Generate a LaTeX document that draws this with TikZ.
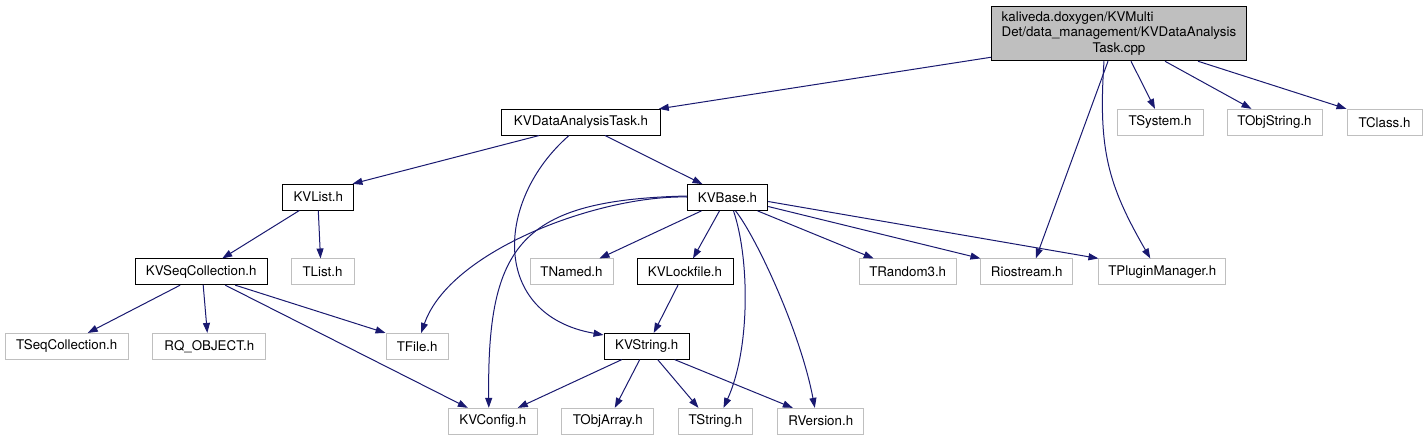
\documentclass[tikz,border=0pt]{standalone}
\usepackage{fontspec}
\setmainfont{TeX Gyre Heros}
\usetikzlibrary{arrows.meta,calc}
\definecolor{edgeblue}{HTML}{191970}
\definecolor{lgray}{HTML}{BFBFBF}
\begin{document}
\begin{tikzpicture}[x=1pt,y=-1pt,
  box/.style={draw=black,line width=1pt,inner sep=0pt,minimum height=25.7pt,
    font=\fontsize{13.33}{15.5}\selectfont},
  gbox/.style={box,draw=lgray},
  edge/.style={draw=edgeblue,line width=1pt,-{Triangle[length=10pt,width=7pt]}}]
\useasboundingbox (0,0) rectangle (1427,440);
% nodes
\node[box,fill=lgray,minimum width=255pt,minimum height=54.7pt] (top) at (1119,33.4)
  {\begin{tabular}{@{}l@{}}kaliveda.doxygen/KVMulti\\Det/data\_management/KVDataAnalysis\\\multicolumn{1}{@{}c@{}}{Task.cpp}\end{tabular}};
\node[box,minimum width=158.6pt] (kvdat) at (581,122.2) {KVDataAnalysisTask.h};
\node[gbox,minimum width=86pt] (tsys) at (1160,122.2) {TSystem.h};
\node[gbox,minimum width=95pt] (tobj) at (1274.5,122.2) {TObjString.h};
\node[gbox,minimum width=75pt] (tclass) at (1384.5,122.2) {TClass.h};
\node[box,minimum width=80.4pt] (kvbase) at (727.5,197.5) {KVBase.h};
\node[box,minimum width=71.3pt] (kvlist) at (318.3,197.2) {KVList.h};
\node[box,minimum width=132.3pt] (kvseq) at (201.2,271.8) {KVSeqCollection.h};
\node[gbox,minimum width=63pt] (tlist) at (322.5,271.8) {TList.h};
\node[gbox,minimum width=83pt] (tnamed) at (571.5,271.8) {TNamed.h};
\node[box,minimum width=96pt] (kvlock) at (685,271.8) {KVLockfile.h};
\node[gbox,minimum width=97pt] (trand) at (907.7,271.8) {TRandom3.h};
\node[gbox,minimum width=91.7pt] (rio) at (1026.8,271.8) {Riostream.h};
\node[gbox,minimum width=126.7pt] (tpm) at (1162.3,271.8) {TPluginManager.h};
\node[gbox,minimum width=123.3pt] (tseq) at (66.7,346.3) {TSeqCollection.h};
\node[gbox,minimum width=113.3pt] (rq) at (209.3,346.3) {RQ\_OBJECT.h};
\node[gbox,minimum width=62.3pt] (tfile) at (417.2,346.3) {TFile.h};
\node[box,minimum width=85.3pt] (kvstr) at (646.7,346.3) {KVString.h};
\node[gbox,minimum width=89pt] (kvconf) at (492.8,421.2) {KVConfig.h};
\node[gbox,minimum width=92.3pt] (tobjarr) at (607.8,421.2) {TObjArray.h};
\node[gbox,minimum width=74.4pt] (tstr) at (715.5,421.2) {TString.h};
\node[gbox,minimum width=86.3pt] (rver) at (820.8,421.2) {RVersion.h};
% edges from top
\draw[edge] ($(top.south west)+(0,-4)$) -- ($(kvdat.north east)+(-2,0)$);
\draw[edge] ($(top.south)+(-11,0)$) -- ($(rio.north)+(9,0)$);
\draw[edge] ($(top.south)+(-15,0)$) .. controls (1098,150) and (1108,185) .. ($(tpm.north)+(-12,0)$);
\draw[edge] ($(top.south)+(12,0)$) -- ($(tsys.north)+(-5,0)$);
\draw[edge] ($(top.south)+(46,0)$) -- ($(tobj.north)+(-23,0)$);
\draw[edge] ($(top.south)+(79,0)$) -- (tclass.north west);
% edges from KVDataAnalysisTask.h
\draw[edge] ($(kvdat.south)+(-42,0)$) -- ($(kvlist.north east)+(-2,0)$);
\draw[edge] ($(kvdat.south)+(24,0)$) -- ($(kvbase.north)+(-25,0)$);
\draw[edge] ($(kvdat.south)+(-12,0)$) .. controls (495,200) and (490,315) .. ($(kvstr.north west)+(0,2)$);
% KVList.h
\draw[edge] ($(kvlist.south)+(-19,0)$) -- ($(kvseq.north)+(21,0)$);
\draw[edge] ($(kvlist.south)+(0,0)$) -- ($(tlist.north)+(-2,0)$);
% KVSeqCollection.h
\draw[edge] ($(kvseq.south)+(-21,0)$) -- ($(tseq.north)+(21,0)$);
\draw[edge] ($(kvseq.south)+(2,0)$) -- ($(rq.north)+(-2,0)$);
\draw[edge] ($(kvseq.south)+(34,0)$) -- (tfile.north west);
\draw[edge] ($(kvseq.south)+(24,0)$) -- ($(kvconf.north)+(-25,0)$);
% KVBase.h
\draw[edge] ($(kvbase.west)+(0,-0.5)$) .. controls (600,195) and (450,250) .. ($(tfile.north)+(4,0)$);
\draw[edge] ($(kvbase.west)+(0,-1.5)$) .. controls (520,200) and (487,245) .. ($(kvconf.north)+(-4,0)$);
\draw[edge] ($(kvbase.south)+(-26,0)$) -- ($(tnamed.north)+(28,0)$);
\draw[edge] ($(kvbase.south)+(-8,0)$) -- ($(kvlock.north)+(8,0)$);
\draw[edge] ($(kvbase.south)+(6,0)$) .. controls (750,260) and (750,350) .. ($(tstr.north)+(8,0)$);
\draw[edge] ($(kvbase.south)+(8,0)$) .. controls (755,235) and (800,330) .. ($(rver.north)+(-6,0)$);
\draw[edge] ($(kvbase.south)+(30,0)$) -- ($(trand.north)+(-34,0)$);
\draw[edge] ($(kvbase.east)+(0,9)$) -- (rio.north west);
\draw[edge] ($(kvbase.east)+(0,4)$) -- (tpm.north west);
% KVLockfile.h
\draw[edge] ($(kvlock.south)+(-7,0)$) -- ($(kvstr.north)+(7,0)$);
% KVString.h
\draw[edge] ($(kvstr.south)+(-25,0)$) -- ($(kvconf.north)+(25,0)$);
\draw[edge] ($(kvstr.south)+(-7,0)$) -- ($(tobjarr.north)+(7,0)$);
\draw[edge] ($(kvstr.south)+(11,0)$) -- ($(tstr.north)+(-17,0)$);
\draw[edge] ($(kvstr.south)+(28,0)$) -- ($(rver.north)+(-28,0)$);
\end{tikzpicture}
\end{document}
